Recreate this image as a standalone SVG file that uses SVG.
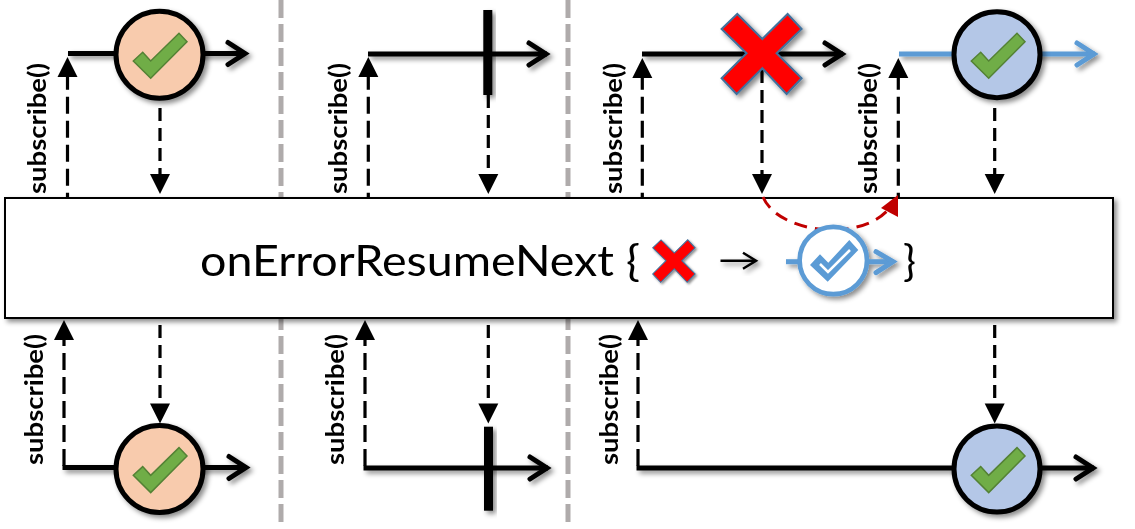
<svg xmlns="http://www.w3.org/2000/svg" width="1135" height="529" viewBox="0 0 1135 529">
<style>
.flow{fill:none;stroke:#000;stroke-width:5}
.blue{stroke:#5B9BD5}
.dash{fill:none;stroke:#000;stroke-width:3.2;stroke-dasharray:17 7}
.dn{fill:none;stroke:#000;stroke-width:3.2;stroke-dasharray:13 7}
.div{fill:none;stroke:#AFABAB;stroke-width:5;stroke-dasharray:18 6}
.lab{font-family:"Lato","Liberation Sans",sans-serif;font-weight:700;font-size:25.5px;fill:#000}
.big{font-family:"Lato","Liberation Sans",sans-serif;font-size:43px;fill:#000}
.ev{stroke:#000;stroke-width:5}
.ok{fill:#70AD47;stroke:#548235;stroke-width:1.5}
.x{fill:#FF0000;stroke:#41719C;stroke-width:2}
.sh{filter:url(#s)}
</style>
<defs>
<filter id="s" x="-30%" y="-30%" width="170%" height="170%"><feDropShadow dx="3" dy="3" stdDeviation="2.5" flood-color="#000" flood-opacity="0.45"/></filter>
<polygon id="up" points="0,0 10,20 -10,20" fill="#000"/>
<polygon id="down" points="0,0 10,-20 -10,-20" fill="#000"/>
<polyline id="open" points="-22,-11 -5,0 -22,11" fill="none" stroke-width="5" stroke-linecap="round"/>
<polygon id="check" class="ok" points="-26.7,6.3 -17.3,-2.4 -9.3,6.3 19,-21.4 27,-13 -9.3,23.6"/>
<polygon id="cross" class="x" points="-40.7,-24.3 -25,-39.3 0,-14.3 25.3,-39.3 39.3,-24.3 14.3,0 39.3,25 24.3,40.7 0,15 -25.7,40.7 -40.7,25 -15.7,0"/>
</defs>

<g id="dividers">
<line class="div" x1="281" y1="0" x2="281" y2="522"/>
<line class="div" x1="568" y1="0" x2="568" y2="522"/>
</g>

<g id="connectors">
<g class="sh">
<line class="flow" x1="68" y1="53.5" x2="246" y2="53.5"/>
<use href="#open" x="250" y="53.5" stroke="#000"/>
<line class="flow" x1="368" y1="54" x2="547" y2="54"/>
<use href="#open" x="551" y="54" stroke="#000"/>
<line class="flow" x1="642" y1="54" x2="843" y2="54"/>
<use href="#open" x="847" y="54" stroke="#000"/>
<line class="flow blue" x1="899" y1="54" x2="1095" y2="54"/>
<use href="#open" x="1099" y="54" stroke="#5B9BD5"/>
<line class="flow" x1="62.5" y1="467.5" x2="247" y2="467.5"/>
<use href="#open" x="251" y="467.5" stroke="#000"/>
<line class="flow" x1="363.5" y1="468" x2="548" y2="468"/>
<use href="#open" x="552" y="468" stroke="#000"/>
<line class="flow" x1="636.5" y1="468" x2="1094" y2="468"/>
<use href="#open" x="1098" y="468" stroke="#000"/>
</g>
<line class="dash" x1="67.5" y1="72.7" x2="67.5" y2="198"/><use href="#up" x="67.5" y="57"/>
<line class="dn" x1="160" y1="108" x2="160" y2="176"/><use href="#down" x="160" y="194"/>
<line class="dash" x1="368.3" y1="72.7" x2="368.3" y2="198"/><use href="#up" x="368.3" y="57"/>
<line class="dn" x1="488.3" y1="95" x2="488.3" y2="176"/><use href="#down" x="488.3" y="194"/>
<line class="dash" x1="642.3" y1="72.7" x2="642.3" y2="198"/><use href="#up" x="642.3" y="58"/>
<line class="dn" x1="762" y1="70" x2="762" y2="176"/><use href="#down" x="762" y="194"/>
<line class="dash" x1="898.3" y1="72.7" x2="898.3" y2="198"/><use href="#up" x="898.3" y="58"/>
<line class="dn" x1="994.7" y1="108" x2="994.7" y2="176"/><use href="#down" x="994.7" y="194"/>
<line class="dash" x1="64" y1="466" x2="64" y2="338"/><use href="#up" x="64" y="320"/>
<line class="dn" x1="160" y1="325" x2="160" y2="405"/><use href="#down" x="160" y="423.5"/>
<line class="dash" x1="365" y1="466" x2="365" y2="338"/><use href="#up" x="365" y="320"/>
<line class="dn" x1="488.3" y1="325" x2="488.3" y2="405"/><use href="#down" x="488.3" y="423.5"/>
<line class="dash" x1="638" y1="466" x2="638" y2="338"/><use href="#up" x="638" y="320"/>
<line class="dn" x1="994.7" y1="325" x2="994.7" y2="405"/><use href="#down" x="994.7" y="423.5"/>
</g>

<g id="operator">
<rect x="5" y="198" width="1108" height="120" fill="#fff" stroke="#000" stroke-width="2" class="sh"/>
<text class="big" x="200" y="276" textLength="440" lengthAdjust="spacingAndGlyphs">onErrorResumeNext {</text>
<text class="big" x="903" y="276">}</text>
</g>

<g id="resume-curve">
<path d="M763,197 C775,225 820,231 835,230 C855,229 875,224 888,210" fill="none" stroke="#C00000" stroke-width="3" stroke-dasharray="13 8"/>
<polygon points="898,195 881,208 898,217" fill="#C00000"/>
</g>

<g id="operator-cross"><use href="#cross" class="sh" transform="translate(674.3,260.7) scale(0.53)"/></g>
<g id="operator-arrow" class="sh">
<line x1="720.5" y1="260.7" x2="755" y2="260.7" stroke="#000" stroke-width="2.5"/>
<polyline points="743,252.7 756,260.7 743,268.7" fill="none" stroke="#000" stroke-width="2.5"/>
</g>
<g id="operator-event">
<g class="sh">
<line x1="786" y1="261.7" x2="800" y2="261.7" stroke="#5B9BD5" stroke-width="5"/>
<line x1="865" y1="261.7" x2="892" y2="261.7" stroke="#5B9BD5" stroke-width="5"/>
<polyline points="876,251.7 893,261.7 876,272.7" fill="none" stroke="#5B9BD5" stroke-width="5" stroke-linecap="round"/>
<circle cx="833.3" cy="260.5" r="33.7" fill="#fff" stroke="#5B9BD5" stroke-width="4.7"/>
</g>
<polygon points="810,265 820,254.3 828.3,262.7 849.3,240 858.3,250 827.7,281.7" fill="#5B9BD5"/>
<polyline points="820,264 828,272 850,250" fill="none" stroke="#fff" stroke-width="2.5"/>
</g>

<g id="ok-1"><circle class="ev sh" cx="159.5" cy="54.7" r="43.5" fill="#F8CBAD"/><use href="#check" x="160" y="54.7"/></g>
<g id="ok-2"><circle class="ev sh" cx="997" cy="54.7" r="43" fill="#B4C7E7"/><use href="#check" x="998" y="54.7"/></g>
<g id="ok-3"><circle class="ev sh" cx="159.5" cy="469" r="43.5" fill="#F8CBAD"/><use href="#check" x="160" y="469"/></g>
<g id="ok-4"><circle class="ev sh" cx="997" cy="469" r="43" fill="#B4C7E7"/><use href="#check" x="998" y="469"/></g>
<g id="bar-top"><rect class="sh" x="483.3" y="10" width="9" height="85" fill="#000"/></g>
<g id="bar-bottom"><rect class="sh" x="484" y="426.7" width="9" height="84" fill="#000"/></g>
<g id="error-cross"><use href="#cross" class="sh" x="762.3" y="53.3"/></g>

<g id="labels">
<text class="lab" textLength="131" lengthAdjust="spacingAndGlyphs" transform="translate(46,194) rotate(-90)">subscribe()</text>
<text class="lab" textLength="131" lengthAdjust="spacingAndGlyphs" transform="translate(347,194) rotate(-90)">subscribe()</text>
<text class="lab" textLength="131" lengthAdjust="spacingAndGlyphs" transform="translate(622,194) rotate(-90)">subscribe()</text>
<text class="lab" textLength="131" lengthAdjust="spacingAndGlyphs" transform="translate(877,194) rotate(-90)">subscribe()</text>
<text class="lab" textLength="131" lengthAdjust="spacingAndGlyphs" transform="translate(43,465) rotate(-90)">subscribe()</text>
<text class="lab" textLength="131" lengthAdjust="spacingAndGlyphs" transform="translate(344,465) rotate(-90)">subscribe()</text>
<text class="lab" textLength="131" lengthAdjust="spacingAndGlyphs" transform="translate(618,465) rotate(-90)">subscribe()</text>
</g>
</svg>
